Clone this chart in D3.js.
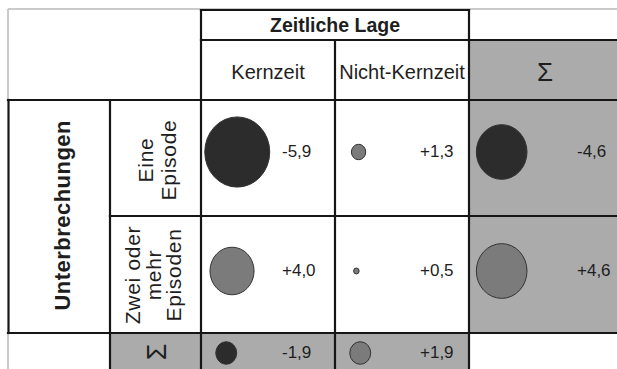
<!DOCTYPE html>
<html><head><meta charset="utf-8">
<script src="https://cdn.jsdelivr.net/npm/d3@7"></script>
<style>html,body{margin:0;padding:0;background:#fff;}svg{display:block;}</style>
</head><body>
<svg id="c" width="617" height="369"></svg>
<script>
// ---- data ----
const headerTitle = "Zeitliche Lage";
const rowGroupTitle = "Unterbrechungen";
const columns = ["Kernzeit", "Nicht-Kernzeit", "Σ"];
const rowLabels = [["Eine", "Episode"], ["Zwei oder", "mehr", "Episoden"], ["Σ"]];
const valuesKernzeit = [-5.9, 4.0, -1.9];
const valuesNichtKernzeit = [1.3, 0.5, 1.9];
const valuesSumme = [-4.6, 4.6, null];

(function () {
// ---- layout ----
const svg = d3.select("#c");
const W = 617, H = 369;
const xLeft = 8, xLab = 110, xGrid = 201, yTop = 9, yHead = 40, yBody = 100;
const rowBounds = [100, 216, 333, 369];
const dark = "#161616", light = "#b8b8b8", grayBg = "#ababab", txt = "#1e1e1e";
const font = "'Liberation Sans', Arial, sans-serif";

const x = d3.scaleBand().domain(columns).range([xGrid, xGrid + 3 * 134]).padding(0);
const rowIdx = [0, 1, 2];
const yCircle = d3.scaleOrdinal().domain(rowIdx).range([152, 271, 353]);
const yLabel = d3.scaleOrdinal().domain(rowIdx).range([160, 275, 352]);
const r = d3.scaleLinear().domain([0, 5.9]).range([0, 32.5]);
const labelOffset = d3.scaleOrdinal().domain(columns).range([81, 85, 108]);

const fmt = v => (v > 0 ? "+" : "") + v.toFixed(1).replace(".", ",");

// gray fills
svg.append("rect").attr("x", x("Σ")).attr("y", yHead).attr("width", W - x("Σ")).attr("height", rowBounds[2] - yHead).attr("fill", grayBg);
svg.append("rect").attr("x", xLab).attr("y", rowBounds[2]).attr("width", x("Σ") - xLab).attr("height", H - rowBounds[2]).attr("fill", grayBg);

// light lines
const lightLines = [
  [xLeft, yTop, W, yTop],
  [xLeft, yTop, xLeft, yBody],
  [xLeft, rowBounds[2], xLeft, H]
];
svg.selectAll("line.light").data(lightLines).join("line").attr("class", "light")
  .attr("x1", d => d[0]).attr("y1", d => d[1]).attr("x2", d => d[2]).attr("y2", d => d[3])
  .attr("stroke", light).attr("stroke-width", 1.5);

// dark lines
const xEnd = x("Σ");
const darkLines = [
  [xGrid, yTop + 1, xEnd, yTop + 1],
  [xGrid, yHead, W, yHead],
  [xGrid, yTop + 1, xGrid, H],
  [xEnd, yTop + 1, xEnd, H],
  [x("Nicht-Kernzeit"), yHead, x("Nicht-Kernzeit"), H],
  [xLeft, yBody, W, yBody],
  [xLab, rowBounds[1], W, rowBounds[1]],
  [xLeft, rowBounds[2], W, rowBounds[2]],
  [xLab, yBody, xLab, H],
  [xLeft + 0.5, yBody, xLeft + 0.5, rowBounds[2]]
];
svg.selectAll("line.dark").data(darkLines).join("line").attr("class", "dark")
  .attr("x1", d => d[0]).attr("y1", d => d[1]).attr("x2", d => d[2]).attr("y2", d => d[3])
  .attr("stroke", dark).attr("stroke-width", 2.2).attr("stroke-linecap", "square");

// header texts
svg.append("text").attr("x", (xGrid + xEnd) / 2).attr("y", 32).attr("text-anchor", "middle")
  .attr("font-family", font).attr("font-weight", "bold").attr("font-size", 19.5).attr("fill", txt).text(headerTitle);
svg.selectAll("text.col").data(columns).join("text").attr("class", "col")
  .attr("x", d => d === "Σ" ? x(d) + 76 : x(d) + x.bandwidth() / 2)
  .attr("y", d => d === "Σ" ? 81 : 79)
  .attr("text-anchor", "middle").attr("font-family", font)
  .attr("font-size", d => d === "Σ" ? 26 : 20).attr("fill", txt).text(d => d);

// row group title
svg.append("text").attr("transform", `translate(70,${(yBody + rowBounds[2]) / 2 - 1}) rotate(-90)`)
  .attr("text-anchor", "middle").attr("font-family", font).attr("font-weight", "bold")
  .attr("font-size", 22).attr("textLength", 190).attr("lengthAdjust", "spacing").attr("fill", txt).text(rowGroupTitle);

// row labels
const baselines = [[153, 176], [140, 160.5, 181], [166]];
rowLabels.forEach((lines, i) => {
  lines.forEach((s, j) => {
    svg.append("text").attr("transform", `translate(${baselines[i][j]},${yLabel(i)}) rotate(-90)`)
      .attr("text-anchor", "middle").attr("font-family", font)
      .attr("font-size", s === "Σ" ? 27 : 21).attr("letter-spacing", s === "Σ" ? 0 : 0.7)
      .attr("fill", txt).text(s);
  });
});

// cells
const cells = [];
[valuesKernzeit, valuesNichtKernzeit, valuesSumme].forEach((arr, ci) => {
  arr.forEach((v, ri) => { if (v !== null) cells.push({ col: columns[ci], row: ri, v }); });
});
svg.selectAll("ellipse.b").data(cells).join("ellipse").attr("class", "b")
  .attr("cx", d => x(d.col) + 20 + 0.5 * r(Math.abs(d.v)))
  .attr("cy", d => yCircle(d.row))
  .attr("rx", d => r(Math.abs(d.v)))
  .attr("ry", d => r(Math.abs(d.v)) * 1.08)
  .attr("fill", d => d.v < 0 ? "#2c2c2c" : "#7b7b7b")
  .attr("stroke", "#333").attr("stroke-width", 1);
svg.selectAll("text.v").data(cells).join("text").attr("class", "v")
  .attr("x", d => x(d.col) + labelOffset(d.col))
  .attr("y", d => yCircle(d.row) - 1)
  .attr("dominant-baseline", "central")
  .attr("font-family", font).attr("font-size", 17).attr("fill", txt)
  .text(d => fmt(d.v));
})();
</script>
</body></html>
